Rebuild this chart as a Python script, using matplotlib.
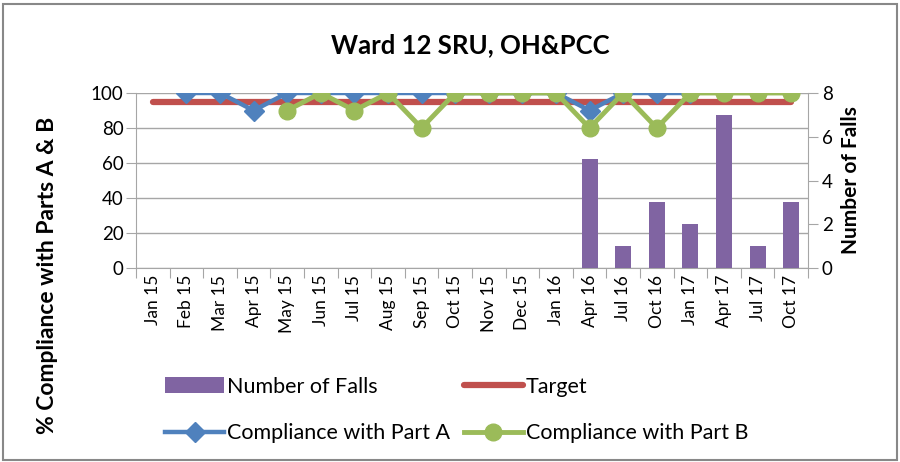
import numpy as np
import matplotlib
matplotlib.use("Agg")
import matplotlib.pyplot as plt
from matplotlib.patches import Rectangle
from matplotlib.lines import Line2D
from matplotlib.patches import Patch

plt.rcParams['font.family'] = ['Lato', 'DejaVu Sans']

categories = ["Jan 15", "Feb 15", "Mar 15", "Apr 15", "May 15", "Jun 15", "Jul 15",
              "Aug 15", "Sep 15", "Oct 15", "Nov 15", "Dec 15", "Jan 16", "Apr 16",
              "Jul 16", "Oct 16", "Jan 17", "Apr 17", "Jul 17", "Oct 17"]
nan = np.nan
falls = [nan, nan, nan, nan, nan, nan, nan, nan, nan, nan, nan, nan, nan,
         5, 1, 3, 2, 7, 1, 3]
target = [95] * 20
part_a = [nan, 100, 100, 90, 100, 100, 100, 100, 100, 100, 100, 100, 100,
          90, 100, 100, 100, nan, nan, nan]
part_b = [nan, nan, nan, nan, 90, 100, 90, 100, 80, 100, 100, 100, 100,
          80, 100, 80, 100, 100, 100, 100]

C_BAR = '#8064A2'
C_RED = '#C0504D'
C_BLUE = '#4F81BD'
C_GREEN = '#9BBB59'
GRID = '#A6A6A6'

fig = plt.figure(figsize=(9, 4.62), dpi=100)
x = np.arange(len(categories))

pos = [136/900, 1-268/462, (808-136)/900, (268-93)/462]
ax = fig.add_axes(pos)
ax.set_xlim(-0.5, len(categories)-0.5)
ax.set_ylim(0, 100)
ax.set_yticks([0, 20, 40, 60, 80, 100])
ax.yaxis.grid(True, color=GRID, lw=1)
ax.set_axisbelow(True)
ax.set_xticks(np.arange(-0.5, len(categories), 1.0))
ax.set_xticklabels([])
ax.set_xticks(x, minor=True)
ax.set_xticklabels(categories, minor=True, rotation=90, fontsize=12.5)
ax.tick_params(axis='x', which='major', length=7, color=GRID, direction='out')
ax.tick_params(axis='x', which='minor', length=0, pad=5)
ax.tick_params(axis='y', length=7, color=GRID, labelsize=13.5, pad=2)
for s in ['top', 'right']:
    ax.spines[s].set_visible(False)
for s in ['left', 'bottom']:
    ax.spines[s].set_color(GRID)

ax2 = ax.twinx()
ax2.set_ylim(0, 8)
ax2.set_yticks([0, 2, 4, 6, 8])
ax2.bar(x, falls, width=0.48, color=C_BAR, zorder=2)
ax2.tick_params(axis='y', length=7, color=GRID, labelsize=13.5, pad=3)
for s in ['top', 'left', 'bottom']:
    ax2.spines[s].set_visible(False)
ax2.spines['right'].set_color(GRID)
ax2.set_ylabel("Number of Falls", fontsize=15, fontweight='bold', labelpad=6)

ax3 = ax.twinx()
ax3.set_ylim(0, 100)
ax3.axis('off')
ax3.plot(x, target, color=C_RED, lw=4.5, solid_capstyle='round', zorder=2)
ax3.plot(x, part_a, color=C_BLUE, lw=3.2, marker='D', markersize=10, zorder=3)
ax3.plot(x, part_b, color=C_GREEN, lw=3.5, marker='o', markersize=12, zorder=4)

fig.text(470/900, 1-45/462, "Ward 12 SRU, OH&PCC", ha='center', va='center',
         fontsize=18.5, fontweight='bold')
fig.text(48/900, 1-275/462, "% Compliance with Parts A & B", rotation=90,
         ha='center', va='center', fontsize=16.5, fontweight='bold')

handles = [Patch(facecolor=C_BAR),
           Line2D([], [], color=C_BLUE, lw=3.2, marker='D', markersize=10),
           Line2D([], [], color=C_RED, lw=4.5, solid_capstyle='round'),
           Line2D([], [], color=C_GREEN, lw=3.5, marker='o', markersize=12)]
labels = ["Number of Falls", "Compliance with Part A", "Target", "Compliance with Part B"]
fig.legend(handles, labels, ncol=2, loc='center left',
           bbox_to_anchor=(165/900, 1-410/462), frameon=False, fontsize=15.5,
           handlelength=2.75, handletextpad=0.12, columnspacing=0.65,
           labelspacing=1.25, borderaxespad=0, borderpad=0)

fig.patches.append(Rectangle((3/900, 2/462), 894/900, 456/462, transform=fig.transFigure,
                             fill=False, edgecolor='#888888', lw=1.5))

fig.savefig("out.png", dpi=100)
